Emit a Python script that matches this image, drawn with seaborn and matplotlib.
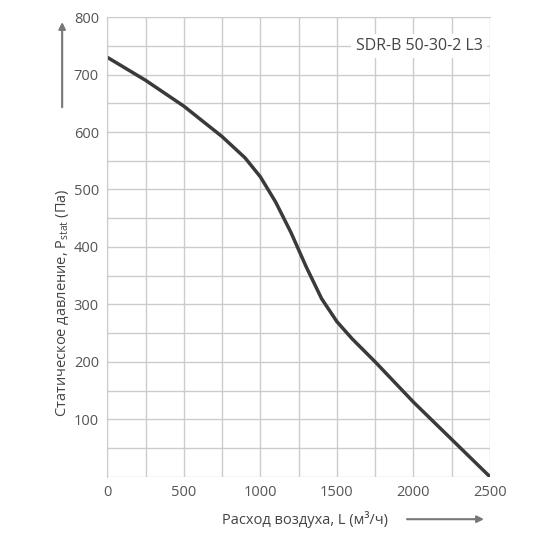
import seaborn as sns
import matplotlib.pyplot as plt
import pandas as pd

flow = [0, 250, 500, 750, 900, 1000, 1100, 1200, 1300, 1400, 1500, 1600, 1750, 2000, 2250, 2500]
pressure = [730, 690, 645, 592, 555, 522, 478, 425, 365, 310, 270, 240, 200, 130, 65, 0]

sns.set_style('white')
plt.rcParams['font.family'] = ['Open Sans', 'DejaVu Sans']

df = pd.DataFrame({'L': flow, 'P': pressure})
fig = plt.figure(figsize=(5.5, 5.5), dpi=100)
ax = fig.add_axes([0.195, 0.133, 0.696, 0.836])
sns.lineplot(data=df, x='L', y='P', ax=ax, color='#3a3a3a', linewidth=2.5)

ax.set_xlim(0, 2500)
ax.set_ylim(0, 800)
ax.set_xticks(range(0, 2501, 250))
ax.set_yticks(range(0, 801, 50))
ax.set_xticklabels([str(v) if v % 500 == 0 else '' for v in range(0, 2501, 250)])
ax.set_yticklabels([str(v) if v % 100 == 0 and v > 0 else '' for v in range(0, 801, 50)])
ax.grid(True, color='#cccccc', linewidth=1)
ax.tick_params(length=0, labelsize=10.5, colors='#555555', pad=6)
ax.set_xlabel('')
ax.set_ylabel('')
for s in ['right', 'bottom']:
    ax.spines[s].set_visible(False)
for s in ['left', 'top']:
    ax.spines[s].set_color('#cccccc')
ax.text(2450, 750, 'SDR-B 50-30-2 L3', ha='right', va='center', fontsize=11.5, color='#444444',
        bbox=dict(facecolor='white', edgecolor='none', pad=3))

fig.text(0.555, 0.056, 'Расход воздуха, L (м³/ч)', ha='center', va='center', fontsize=10.5, color='#444444')
ax.annotate('', xy=(0.885, 0.056), xytext=(0.735, 0.056), xycoords='figure fraction',
            arrowprops=dict(arrowstyle='-|>', color='#777777', lw=1.5))
fig.text(0.113, 0.45, 'Статическое давление, P$_{\\mathregular{stat}}$ (Па)', rotation=90,
         ha='center', va='center', fontsize=10.5, color='#444444')
ax.annotate('', xy=(0.113, 0.965), xytext=(0.113, 0.80), xycoords='figure fraction',
            arrowprops=dict(arrowstyle='-|>', color='#777777', lw=1.5))
fig.savefig('out.png', dpi=100)
